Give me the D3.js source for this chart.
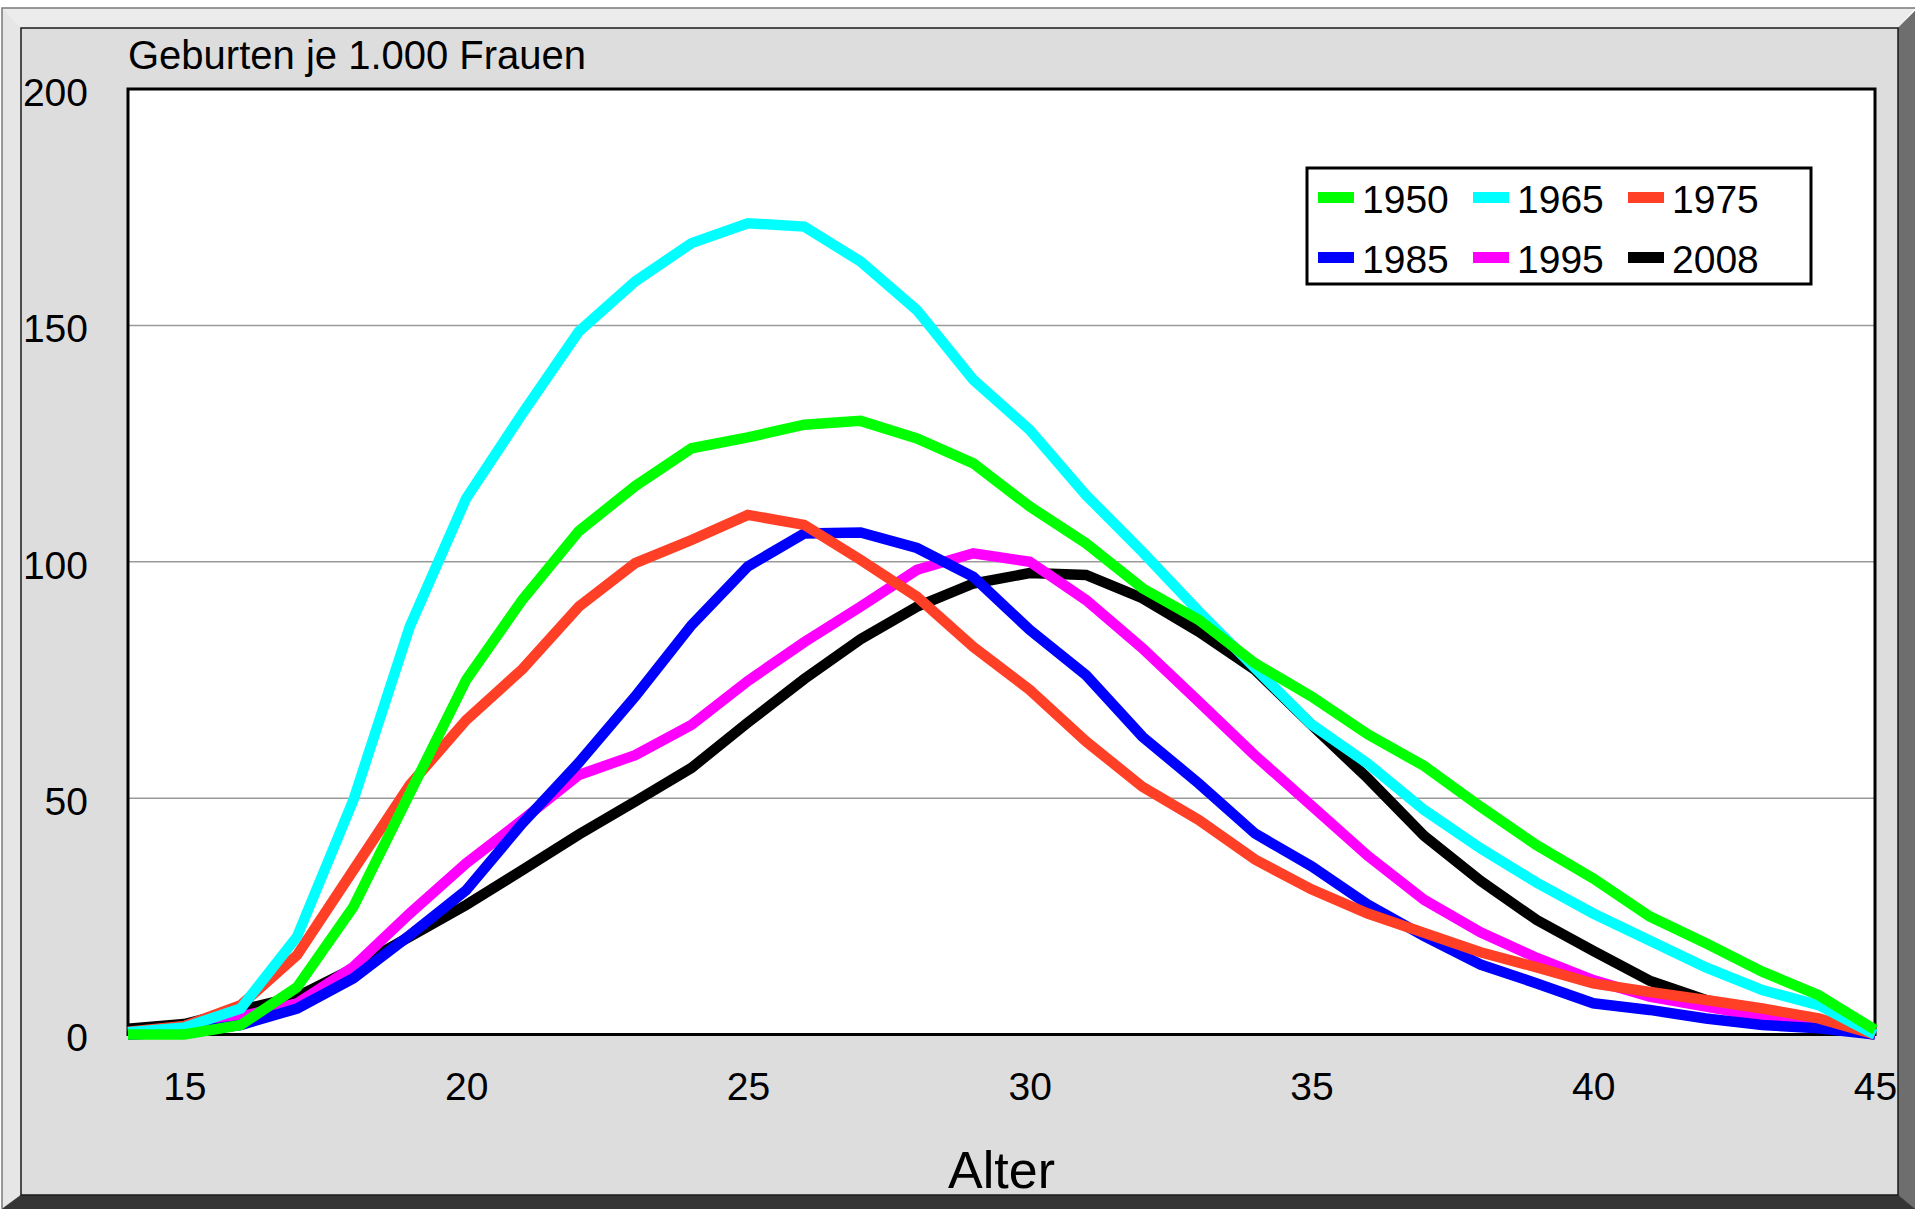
<!DOCTYPE html>
<html>
<head>
<meta charset="utf-8">
<script src="https://cdn.jsdelivr.net/npm/d3@7"></script>
<style>
  body { margin: 0; background: #fff; }
  svg text { font-family: 'Liberation Sans', Arial, sans-serif; fill: #000; }
</style>
</head>
<body>
<div id="chart"></div>
<script>
// Alter 14 .. 45
const ages = d3.range(14, 46)

const v1950 = [0, 0, 2, 10, 27, 51, 75, 92, 106.5, 116, 124, 126.3, 129, 129.8, 126.1, 120.8,
  111.7, 103.9, 94.4, 87.7, 78.5, 71.5, 63.5, 56.8, 48.2, 40, 33, 25, 19.3, 13.3, 8.3, 1]
const v1965 = [0.5, 1.5, 5.5, 20.7, 49.6, 86.3, 113.4, 131.4, 148.7, 159.3, 167.4, 171.6, 170.9, 163.5, 153.2, 138.5,
  127.9, 114.1, 102.1, 89.5, 77.5, 65.6, 57.3, 47.5, 39.4, 32.1, 25.6, 19.9, 14.2, 9.4, 6.2, 0]
const v1975 = [0.6, 1.8, 6.2, 16.8, 34.8, 52.8, 66.5, 77.3, 90.5, 99.7, 104.6, 109.9, 107.8, 100.4, 92.6, 82,
  72.9, 62, 52.4, 45.4, 37, 30.7, 25.6, 21.5, 17.4, 14.2, 10.8, 9, 7.3, 5.5, 3.4, 0]
const v1985 = [0, 0.5, 2, 5.5, 11.9, 21, 30.5, 44.7, 57.5, 71.5, 86.6, 99, 106, 106.2, 102.9, 96.8,
  85.6, 76, 63, 53.1, 42.5, 35.6, 27.5, 20.8, 14.8, 10.8, 6.6, 5.2, 3.4, 2, 1.3, 0]
const v1995 = [0, 0.5, 3.8, 6.6, 14.3, 25.6, 36.2, 45.4, 54.9, 59.1, 65.5, 74.8, 83, 90.5, 98.3, 101.8,
  100, 91.9, 81.7, 70.4, 59, 48.4, 37.8, 28.5, 21.6, 16.2, 11.5, 8, 5.9, 3.8, 2, 0]
const v2008 = [1.2, 2.2, 5.2, 8, 14, 20.7, 27.4, 34.8, 42.3, 49.3, 56.4, 66, 75.2, 83.6, 90.5, 95.4,
  97.6, 97.2, 92.3, 85.2, 77.1, 65.5, 54.2, 42, 32.5, 24.2, 17.7, 11.4, 7.3, 4.5, 2.4, 0]

const years = ['1950', '1965', '1975', '1985', '1995', '2008']
const colors = ['#00ff00', '#00ffff', '#ff3f26', '#0000ff', '#ff00ff', '#000000']
const values = [v1950, v1965, v1975, v1985, v1995, v2008]

const xTicks = [15, 20, 25, 30, 35, 40, 45]
const yTicks = [0, 50, 100, 150, 200]
const gridTicks = [50, 100, 150]

const W = 1915
const H = 1209
const plot = { left: 128, top: 89, right: 1875, bottom: 1034.5 }

const svg = d3.select('#chart').append('svg')
  .attr('width', W)
  .attr('height', H)

// bevelled frame
const fo = { l: 2, t: 8, r: 1915, b: 1209 } // outer
const fi = { l: 21, t: 28, r: 1898, b: 1195 } // inner
const bevel = [
  { pts: [[fo.l, fo.t], [fo.r, fo.t], [fi.r, fi.t], [fi.l, fi.t]], fill: '#ececec' },
  { pts: [[fo.l, fo.t], [fi.l, fi.t], [fi.l, fi.b], [fo.l, fo.b]], fill: '#e6e6e6' },
  { pts: [[fo.r, fo.t + 3], [fo.r, fo.b], [fi.r, fi.b], [fi.r, fi.t]], fill: '#6e6e6e' },
  { pts: [[fo.l, fo.b], [fi.l, fi.b], [fi.r, fi.b], [fo.r, fo.b]], fill: '#353535' }
]
svg.selectAll('polygon.bevel')
  .data(bevel)
  .enter().append('polygon')
  .attr('class', 'bevel')
  .attr('points', d => d.pts.map(p => p.join(',')).join(' '))
  .attr('fill', d => d.fill)
  .attr('stroke', d => d.fill)
  .attr('stroke-width', 0.5)

svg.append('path')
  .attr('d', `M${fo.l},${fo.b} V${fo.t} H${fo.r}`)
  .attr('fill', 'none')
  .attr('stroke', '#7a7a7a')
  .attr('stroke-width', 1.5)

svg.append('rect')
  .attr('x', fi.l)
  .attr('y', fi.t)
  .attr('width', fi.r - fi.l)
  .attr('height', fi.b - fi.t)
  .attr('fill', '#dddddd')
  .attr('stroke', '#1a1a1a')
  .attr('stroke-width', 1.5)

// scales
const x = d3.scaleLinear().domain([14, 45]).range([plot.left, plot.right])
const y = d3.scaleLinear().domain([0, 200]).range([plot.bottom, plot.top])

svg.append('rect')
  .attr('x', plot.left)
  .attr('y', plot.top)
  .attr('width', plot.right - plot.left)
  .attr('height', plot.bottom - plot.top)
  .attr('fill', '#fff')

svg.append('g')
  .attr('class', 'grid')
  .selectAll('line')
  .data(gridTicks)
  .enter().append('line')
  .attr('x1', plot.left)
  .attr('x2', plot.right)
  .attr('y1', d => y(d))
  .attr('y2', d => y(d))
  .attr('stroke', '#9a9a9a')
  .attr('stroke-width', 1.5)

svg.append('rect')
  .attr('x', plot.left)
  .attr('y', plot.top)
  .attr('width', plot.right - plot.left)
  .attr('height', plot.bottom - plot.top)
  .attr('fill', 'none')
  .attr('stroke', '#000')
  .attr('stroke-width', 3)

// axes (labels only)
const yAxis = svg.append('g')
  .attr('transform', 'translate(' + plot.left + ',0)')
  .call(d3.axisLeft(y).tickValues(yTicks).tickSize(0).tickPadding(40))
yAxis.select('.domain').remove()
yAxis.selectAll('text')
  .attr('dy', '0.42em')
  .style('font-size', '39px')
  .style('font-family', "'Liberation Sans', Arial, sans-serif")
  .attr('fill', '#000')

const xAxis = svg.append('g')
  .attr('transform', 'translate(0,' + plot.bottom + ')')
  .call(d3.axisBottom(x).tickValues(xTicks).tickSize(0).tickPadding(38))
xAxis.select('.domain').remove()
xAxis.selectAll('text')
  .style('font-size', '39px')
  .style('font-family', "'Liberation Sans', Arial, sans-serif")
  .attr('fill', '#000')

svg.append('text')
  .attr('x', plot.left)
  .attr('y', 69)
  .style('font-size', '40px')
  .text('Geburten je 1.000 Frauen')

svg.append('text')
  .attr('x', (plot.left + plot.right) / 2)
  .attr('y', 1188)
  .attr('text-anchor', 'middle')
  .style('font-size', '52px')
  .text('Alter')

// series, 2008 drawn first, 1950 on top
const line = d3.line()
  .x((d, i) => x(ages[i]))
  .y(d => y(d))

const series = years.map((yr, i) => ({ year: yr, color: colors[i], values: values[i] }))

svg.append('g')
  .attr('class', 'series')
  .selectAll('path')
  .data(series.slice().reverse())
  .enter().append('path')
  .attr('d', d => line(d.values))
  .attr('fill', 'none')
  .attr('stroke', d => d.color)
  .attr('stroke-width', 10.5)
  .attr('stroke-linejoin', 'miter')

// legend
const legend = svg.append('g')
  .attr('class', 'legend')
  .attr('transform', 'translate(1307,168)')

legend.append('rect')
  .attr('width', 504)
  .attr('height', 116)
  .attr('fill', '#fff')
  .attr('stroke', '#000')
  .attr('stroke-width', 3)

const item = legend.selectAll('g.item')
  .data(series)
  .enter().append('g')
  .attr('class', 'item')
  .attr('transform', (d, i) => 'translate(' + (11 + (i % 3) * 155) + ',' + (Math.floor(i / 3) * 60) + ')')

item.append('rect')
  .attr('x', 0)
  .attr('y', 24)
  .attr('width', 36)
  .attr('height', 11)
  .attr('fill', d => d.color)

item.append('text')
  .attr('x', 44)
  .attr('y', 45)
  .style('font-size', '39px')
  .text(d => d.year)
</script>
</body>
</html>
